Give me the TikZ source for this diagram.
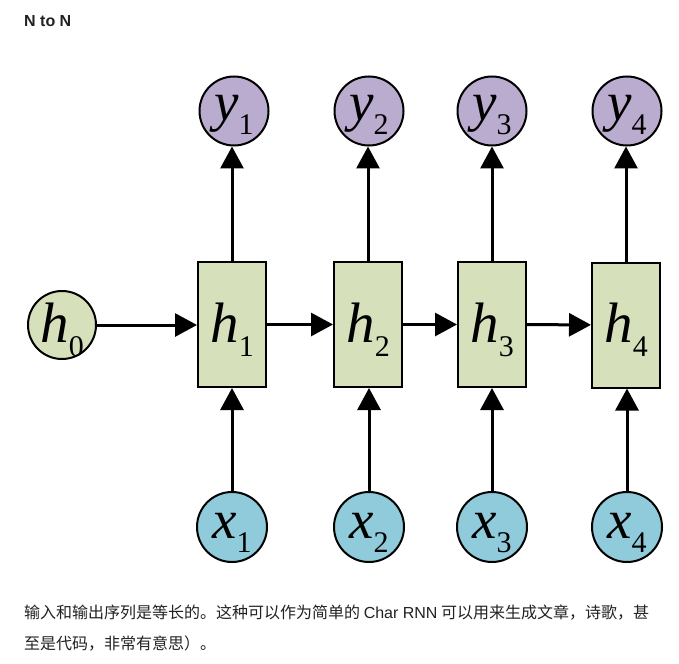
\documentclass[tikz,border=0pt]{standalone}
\usepackage{fontspec}
\setmainfont{Liberation Serif}
\newfontfamily\titlefont{Liberation Sans}
\newfontfamily\cjk{Noto Sans CJK SC}
\usetikzlibrary{arrows.meta}
\definecolor{ycol}{RGB}{186,172,206}
\definecolor{hcol}{RGB}{214,224,187}
\definecolor{xcol}{RGB}{143,203,218}
\definecolor{txt}{RGB}{34,34,34}
\newcommand{\lbl}[4]{\raisebox{0pt}[#4pt][0pt]{\fontsize{#3}{#3}\selectfont\itshape #1\kern0pt\raisebox{-14pt}{\fontsize{30}{30}\selectfont\upshape #2}}}
\begin{document}
\begin{tikzpicture}[x=1pt,y=-1pt,
  ycirc/.style={circle,draw=black,line width=2pt,fill=ycol,minimum size=69pt,inner sep=0pt},
  xcirc/.style={circle,draw=black,line width=2pt,fill=xcol,minimum size=70pt,inner sep=0pt},
  hcirc/.style={circle,draw=black,line width=2pt,fill=hcol,minimum size=68pt,inner sep=0pt},
  hbox/.style={rectangle,draw=black,line width=2pt,fill=hcol,minimum width=68pt,minimum height=125pt,inner sep=0pt},
  conn/.style={line width=3pt,-{Triangle[length=22pt,width=23pt]}},
  caption/.style={anchor=base west,inner sep=0pt,text=txt,font=\cjk\fontsize{16}{16}\selectfont}
]
\useasboundingbox (0,0) rectangle (679,663);
\fill[white] (0,0) rectangle (679,663);

\node[anchor=base west,inner sep=0pt,text=txt,font=\titlefont\bfseries\fontsize{16}{16}\selectfont] (title) at (24,26.5) {N to N};

% outputs
\node[ycirc] (y1) at (234,111) {\lbl{y}{1}{55}{20}};
\node[ycirc] (y2) at (369,111) {\lbl{y}{2}{55}{20}};
\node[ycirc] (y3) at (492,111) {\lbl{y}{3}{55}{20}};
\node[ycirc] (y4) at (627,111) {\lbl{y}{4}{55}{20}};

% hidden states
\node[hcirc] (h0) at (62,325) {\lbl{h}{0}{57}{34}};
\node[hbox] (h1) at (232,324.5) {\lbl{h}{1}{57}{35}};
\node[hbox] (h2) at (368,324.5) {\lbl{h}{2}{57}{35}};
\node[hbox] (h3) at (492,324.5) {\lbl{h}{3}{57}{35}};
\node[hbox] (h4) at (626,325) {\lbl{h}{4}{57}{35}};

% inputs
\node[xcirc] (x1) at (232,527) {\lbl{x}{1}{55}{22}};
\node[xcirc] (x2) at (369,527) {\lbl{x}{2}{55}{22}};
\node[xcirc] (x3) at (492,527) {\lbl{x}{3}{55}{22}};
\node[xcirc] (x4) at (627,527) {\lbl{x}{4}{55}{22}};

% connectors
\draw[conn] (h0.east) -- (h1.west |- h0.east);
\draw[conn] (h1) -- (h2);
\draw[conn] (h2) -- (h3);
\draw[conn] (h3) -- (h4);
\foreach \i in {1,2,3,4}{
  \draw[conn] (h\i.north) -- (h\i.north |- y\i.south);
  \draw[conn] (x\i.north) -- (x\i.north |- h\i.south);
}

\node[caption] (cap1) at (24,618) {输入和输出序列是等长的。这种可以作为简单的 {\titlefont Char RNN} 可以用来生成文章，诗歌，甚};
\node[caption] (cap2) at (24,649) {至是代码，非常有意思）。};
\end{tikzpicture}
\end{document}
